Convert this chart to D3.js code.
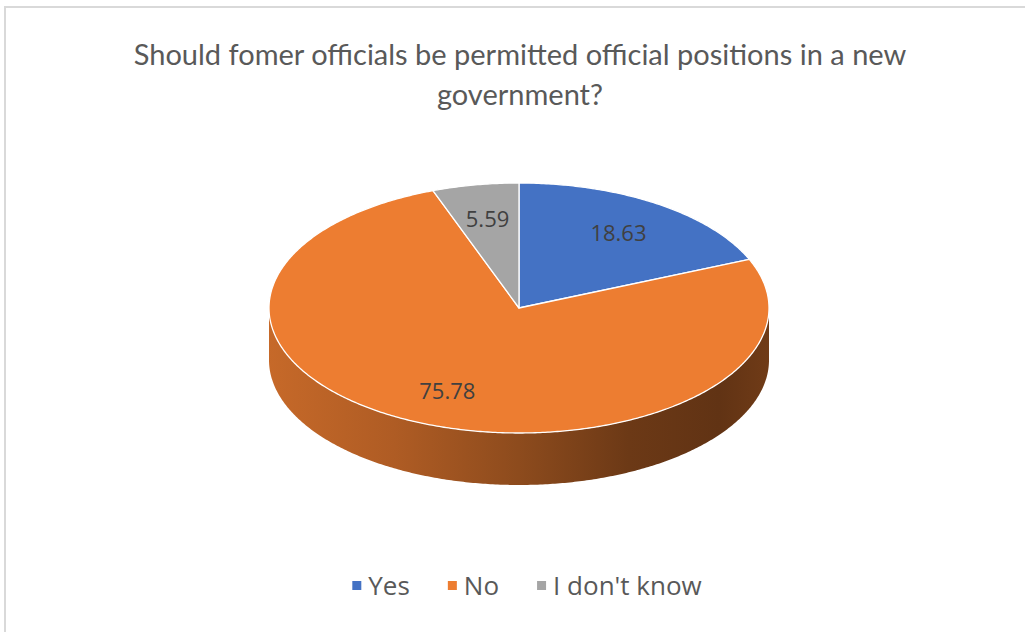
<!DOCTYPE html>
<html>
<head>
<meta charset="utf-8">
<script src="https://cdn.jsdelivr.net/npm/d3@7"></script>
<style>
  html, body { margin: 0; padding: 0; background: #fff; }
  svg { display: block; }
</style>
</head>
<body>
<svg id="chart" width="1025" height="632"></svg>
<script>
// --- data ---
const categories = ["Yes", "No", "I don't know"];
const values = [18.63, 75.78, 5.59];
const colors = ["#4472c4", "#ed7d31", "#a5a5a5"];
const titleLines = ["Should fomer officials be permitted official positions in a new", "government?"];

const width = 1025, height = 632;
const cx = 519, cy = 308, rx = 250, ry = 125, depth = 52;
const labelR = 0.72;

const svg = d3.select("#chart");

// frame
svg.append("rect")
  .attr("x", 5).attr("y", 7)
  .attr("width", width).attr("height", height)
  .attr("fill", "#fff")
  .attr("stroke", "#d9d9d9").attr("stroke-width", 2);

// title
const title = svg.append("g").attr("font-family", "Lato, 'Open Sans', sans-serif")
  .attr("fill", "#595959").attr("font-size", 29).attr("text-anchor", "middle");
titleLines.forEach((t, i) => {
  title.append("text").attr("x", 520).attr("y", 65 + i * 40).text(t);
});

// pie angles
const pie = d3.pie().sort(null).value(d => d)(values);

// project an angle (0 = top, clockwise) onto the ellipse
const proj = (a, f = 1, dy = 0) => [cx + rx * f * Math.sin(a), cy - ry * f * Math.cos(a) + dy];
const line = d3.line();
function arcPoints(a0, a1, dy) {
  const n = Math.max(2, Math.ceil((a1 - a0) / 0.01));
  return d3.range(n + 1).map(i => proj(a0 + (a1 - a0) * i / n, 1, dy));
}

const defs = svg.append("defs");

// side walls (front half only: angles PI/2..3PI/2)
pie.forEach((d, i) => {
  const a0 = Math.max(d.startAngle, Math.PI / 2);
  const a1 = Math.min(d.endAngle, Math.PI * 3 / 2);
  if (a1 <= a0) return;
  const base = d3.color(colors[i]);
  const gid = "side" + i;
  const g = defs.append("linearGradient").attr("id", gid)
    .attr("gradientUnits", "userSpaceOnUse")
    .attr("x1", cx - rx).attr("x2", cx + rx).attr("y1", 0).attr("y2", 0);
  [[0, 0.5], [0.25, 0.85], [0.5, 1.45], [0.72, 2.2], [0.9, 2.5], [1, 2.1]].forEach(([o, k]) => {
    g.append("stop").attr("offset", o).attr("stop-color", base.darker(k));
  });
  const top = arcPoints(a0, a1, 0);
  const bot = arcPoints(a0, a1, depth).reverse();
  svg.append("path")
    .attr("d", line(top.concat(bot)) + "Z")
    .attr("fill", `url(#${gid})`);
});

// top faces
pie.forEach((d, i) => {
  const pts = [[cx, cy]].concat(arcPoints(d.startAngle, d.endAngle, 0));
  svg.append("path")
    .attr("d", line(pts) + "Z")
    .attr("fill", colors[i])
    .attr("stroke", "#fff").attr("stroke-width", 1.3)
    .attr("stroke-linejoin", "round");
});

// data labels
pie.forEach((d, i) => {
  const mid = (d.startAngle + d.endAngle) / 2;
  const [x, y] = proj(mid, labelR);
  svg.append("text")
    .attr("x", x).attr("y", y + 8)
    .attr("text-anchor", "middle")
    .attr("font-family", "'Open Sans', sans-serif")
    .attr("font-size", 22).attr("fill", "#404040")
    .text(d.data.toFixed(2));
});

// legend
const gap = 38;
const legend = svg.append("g").attr("font-family", "'Open Sans', sans-serif")
  .attr("font-size", 26).attr("fill", "#595959");
let lx = 0;
categories.forEach((c, i) => {
  const g = legend.append("g");
  g.append("rect").attr("x", 0).attr("y", -14).attr("width", 9).attr("height", 9).attr("fill", colors[i]);
  const t = g.append("text").attr("x", 16).attr("y", 0).text(c);
  const w = 16 + t.node().getComputedTextLength();
  g.attr("transform", `translate(${lx},0)`);
  lx += w + gap;
});
const lw = lx - gap;
legend.attr("transform", `translate(${cx - lw / 2 + 8},${595})`);
</script>
</body>
</html>
